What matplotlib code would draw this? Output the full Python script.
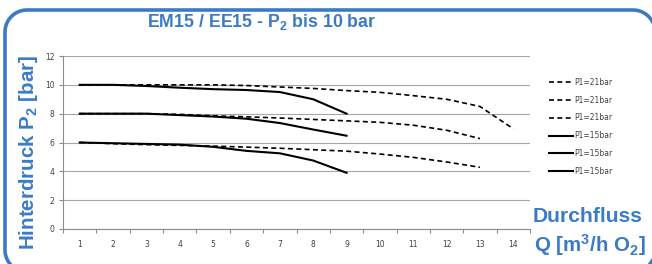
import numpy as np
import matplotlib
matplotlib.use('Agg')
import matplotlib.pyplot as plt
from matplotlib.path import Path
from matplotlib.patches import PathPatch

# Data
q = [1, 2, 3, 4, 5, 6, 7, 8, 9, 10, 11, 12, 13, 14]

p21_high = [10.0, 10.0, 10.0, 10.0, 10.0, 9.95, 9.85, 9.75, 9.6, 9.48, 9.25, 9.0, 8.5, 6.95]
p21_mid = [8.0, 8.0, 8.0, 7.95, 7.85, 7.78, 7.7, 7.6, 7.5, 7.4, 7.2, 6.85, 6.27]
p21_low = [6.0, 5.92, 5.85, 5.8, 5.75, 5.68, 5.6, 5.5, 5.4, 5.2, 4.97, 4.65, 4.28]

p15_high = [10.0, 10.0, 9.92, 9.8, 9.7, 9.64, 9.5, 9.0, 8.0]
p15_mid = [8.0, 8.0, 8.0, 7.9, 7.8, 7.65, 7.35, 6.9, 6.47]
p15_low = [6.0, 5.95, 5.9, 5.85, 5.7, 5.42, 5.25, 4.75, 3.9]

series_21 = [p21_high, p21_mid, p21_low]
series_15 = [p15_high, p15_mid, p15_low]
yticks = [0, 2, 4, 6, 8, 10, 12]

blue = '#3b7bc6'
W, H = 652, 264

plt.rcParams['mathtext.fontset'] = 'custom'
plt.rcParams['mathtext.rm'] = 'Liberation Sans:bold'
plt.rcParams['mathtext.it'] = 'Liberation Sans:bold'
plt.rcParams['mathtext.bf'] = 'Liberation Sans:bold'

fig = plt.figure(figsize=(W / 100, H / 100), dpi=100)
ax = fig.add_axes([63 / W, 1 - 229 / H, (530 - 63) / W, (229 - 56) / H])

# dashed curves first, then solid ones (legend order)
for s in series_21:
    ax.plot(q[:len(s)], s, color='black', lw=1.2, ls=(0, (3, 2)), label='P1=21bar')
for s in series_15:
    ax.plot(q[:len(s)], s, color='black', lw=1.5, label='P1=15bar')

ax.set_xlim(0.5, 14.5)
ax.set_ylim(0, 12)
ax.set_yticks(yticks)
ax.set_xticks(q)
ax.set_xticks(np.arange(0.5, 15, 1), minor=True)
ax.grid(axis='y', color='#a6a6a6', lw=0.8)
ax.set_axisbelow(True)
for side in ['top', 'right']:
    ax.spines[side].set_visible(False)
for side in ['left', 'bottom']:
    ax.spines[side].set_color('#8c8c8c')
    ax.spines[side].set_linewidth(0.8)
ax.tick_params(axis='x', which='major', length=0, labelsize=5.5, pad=8, labelcolor='#404040')
ax.tick_params(axis='x', which='minor', length=3, color='#8c8c8c', width=0.8)
ax.tick_params(axis='y', length=3, color='#8c8c8c', width=0.8, labelsize=5.5, pad=3, labelcolor='#404040')

leg = fig.legend(loc='upper left', bbox_to_anchor=(542 / W, 1 - 71 / H), frameon=False,
                 fontsize=5.5, handlelength=3.2, handletextpad=0.15, labelspacing=1.15)
for t in leg.get_texts():
    t.set_color('#404040')

# titles and axis labels
fig.text(262 / W, 1 - 22 / H, 'EM15 / EE15 - P$_2$ bis 10 bar', ha='center', va='center',
         fontsize=12.8, fontweight='bold', color=blue, family='Liberation Sans')
fig.text(29 / W, 1 - 152 / H, 'Hinterdruck P$_2$ [bar]', ha='center', va='center', rotation=90,
         fontsize=14.8, fontweight='bold', color=blue, family='Liberation Sans')
fig.text(533 / W, 1 - 216 / H, 'Durchfluss', ha='left', va='center',
         fontsize=15.2, fontweight='bold', color=blue, family='Liberation Sans')
fig.text(534 / W, 1 - 245 / H, 'Q [m$^3$/h O$_2$]', ha='left', va='center',
         fontsize=14.8, fontweight='bold', color=blue, family='Liberation Sans')

# rounded frame in pixel coordinates (y down), partly outside the picture
over = fig.add_axes([0, 0, 1, 1], facecolor='none')
over.set_xlim(0, W)
over.set_ylim(H, 0)
over.axis('off')
x0, y0, x1, y1, r = 5, 10, 655, 272, 22
t = np.linspace(0, np.pi / 2, 20)
pts = []
pts += list(zip(x0 + r - r * np.cos(t), y0 + r - r * np.sin(t)))          # top-left
pts += list(zip(x1 - r + r * np.sin(t), y0 + r - r * np.cos(t)))          # top-right
pts += list(zip(x1 - r + r * np.cos(t), y1 - r + r * np.sin(t)))          # bottom-right
pts += list(zip(x0 + r - r * np.sin(t), y1 - r + r * np.cos(t)))          # bottom-left
pts.append(pts[0])
over.add_patch(PathPatch(Path(pts), fill=False, ec=blue, lw=2.6, clip_on=False))

fig.savefig('out.png', dpi=100)
